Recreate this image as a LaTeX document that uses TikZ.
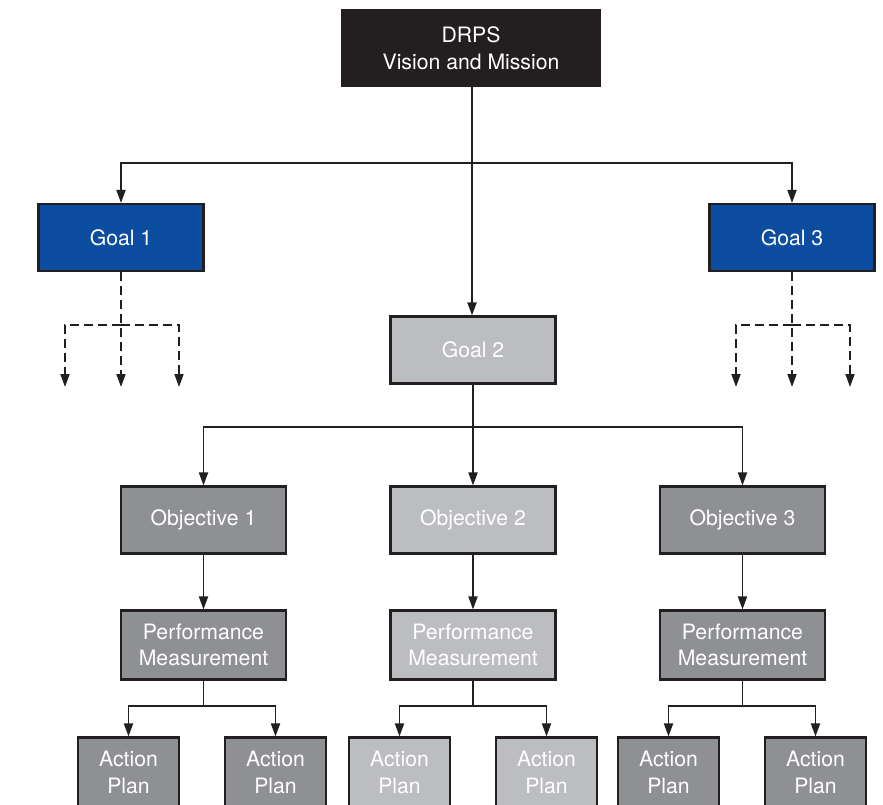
\documentclass[tikz,border=0pt]{standalone}
\usepackage{fontspec}
\setmainfont{TeX Gyre Heros}
\usetikzlibrary{arrows.meta}
\definecolor{boxblack}{HTML}{231F20}
\definecolor{goalblue}{HTML}{0D4DA0}
\definecolor{lightgr}{HTML}{BCBDC0}
\definecolor{darkgr}{HTML}{8F9093}
\definecolor{edgecol}{HTML}{231F20}
\tikzset{
  boxbase/.style={draw=edgecol, line width=2.1pt, text=white, inner sep=0pt, align=center,
    font=\fontsize{21.2}{26.5}\selectfont},
  topbox/.style={boxbase, fill=boxblack, minimum width=258pt, minimum height=75pt},
  bluebox/.style={boxbase, fill=goalblue, minimum width=165pt, minimum height=67pt},
  lightbox/.style={boxbase, fill=lightgr, minimum width=165pt, minimum height=67pt},
  darkbox/.style={boxbase, fill=darkgr, minimum width=165pt, minimum height=67pt},
  pmlight/.style={lightbox, minimum height=69pt},
  pmdark/.style={darkbox, minimum height=69pt},
  aplight/.style={lightbox, minimum width=101pt, minimum height=70pt},
  apdark/.style={darkbox, minimum width=101pt, minimum height=70pt},
  conn/.style={draw=edgecol, line width=1.8pt, -{Triangle[length=13pt,width=9pt]}},
  plainconn/.style={draw=edgecol, line width=1.8pt},
  dconn/.style={conn, dash pattern=on 9pt off 5pt},
}
\begin{document}
\begin{tikzpicture}[x=1pt,y=-1pt]
\useasboundingbox (0,0) rectangle (883,805);
\clip (0,0) rectangle (883,805);
\fill[white] (0,0) rectangle (883,805);

% nodes
\node[topbox] (top) at (471,48) {DRPS\\Vision and Mission};
\node[bluebox] (g1) at (121,237.5) {Goal 1};
\node[bluebox] (g3) at (792,237.5) {Goal 3};
\node[lightbox] (g2) at (473,350) {Goal 2};

\node[darkbox] (o1) at (203.5,520) {Objective 1};
\node[lightbox] (o2) at (473,520) {Objective 2};
\node[darkbox] (o3) at (742.5,520) {Objective 3};

\node[pmdark] (p1) at (203.5,645) {Performance\\Measurement};
\node[pmlight] (p2) at (473,645) {Performance\\Measurement};
\node[pmdark] (p3) at (742.5,645) {Performance\\Measurement};

\node[apdark] (a1) at (128.5,772.5) {Action\\Plan};
\node[apdark] (a2) at (275.5,772.5) {Action\\Plan};
\node[aplight] (a3) at (399.5,772.5) {Action\\Plan};
\node[aplight] (a4) at (546.5,772.5) {Action\\Plan};
\node[apdark] (a5) at (668.5,772.5) {Action\\Plan};
\node[apdark] (a6) at (815.5,772.5) {Action\\Plan};

% top level connectors
\coordinate (b0) at (472,163);
\draw[plainconn] (top.south -| b0) -- (b0);
\draw[conn] (b0) -| (g1.north);
\draw[conn] (b0) -| (g3.north);
\draw[conn] (b0) -- (b0 |- g2.north);

% dashed branches of Goal 1
\coordinate (d1) at (g1.south |- 0,325);
\coordinate (d1l) at (65,325);
\coordinate (d1r) at (179,325);
\coordinate (e1l) at (65,387);
\coordinate (e1m) at (g1.south |- 0,387);
\coordinate (e1r) at (179,387);
\draw[dconn] (g1.south) -- (e1m);
\draw[dconn] (d1) -- (d1l) -- (e1l);
\draw[dconn] (d1) -- (d1r) -- (e1r);

% dashed branches of Goal 3
\coordinate (d3) at (g3.south |- 0,325);
\coordinate (d3l) at (736,325);
\coordinate (d3r) at (850,325);
\coordinate (e3l) at (736,387);
\coordinate (e3m) at (g3.south |- 0,387);
\coordinate (e3r) at (850,387);
\draw[dconn] (g3.south) -- (e3m);
\draw[dconn] (d3) -- (d3l) -- (e3l);
\draw[dconn] (d3) -- (d3r) -- (e3r);

% Goal 2 to objectives
\coordinate (b2) at (g2.south |- 0,427);
\draw[plainconn] (g2.south) -- (b2);
\draw[conn] (b2) -| (o1.north);
\draw[conn] (b2) -- (o2.north);
\draw[conn] (b2) -| (o3.north);

% objectives to performance measurement
\draw[conn] (o1.south) -- (p1.north);
\draw[conn] (o2.south) -- (p2.north);
\draw[conn] (o3.south) -- (p3.north);

% performance measurement to action plans
\coordinate (c1) at (p1.south |- 0,706);
\coordinate (c2) at (p2.south |- 0,706);
\coordinate (c3) at (p3.south |- 0,706);
\draw[plainconn] (p1.south) -- (c1);
\draw[conn] (c1) -| (a1.north);
\draw[conn] (c1) -| (a2.north);
\draw[plainconn] (p2.south) -- (c2);
\draw[conn] (c2) -| (a3.north);
\draw[conn] (c2) -| (a4.north);
\draw[plainconn] (p3.south) -- (c3);
\draw[conn] (c3) -| (a5.north);
\draw[conn] (c3) -| (a6.north);
\end{tikzpicture}
\end{document}
